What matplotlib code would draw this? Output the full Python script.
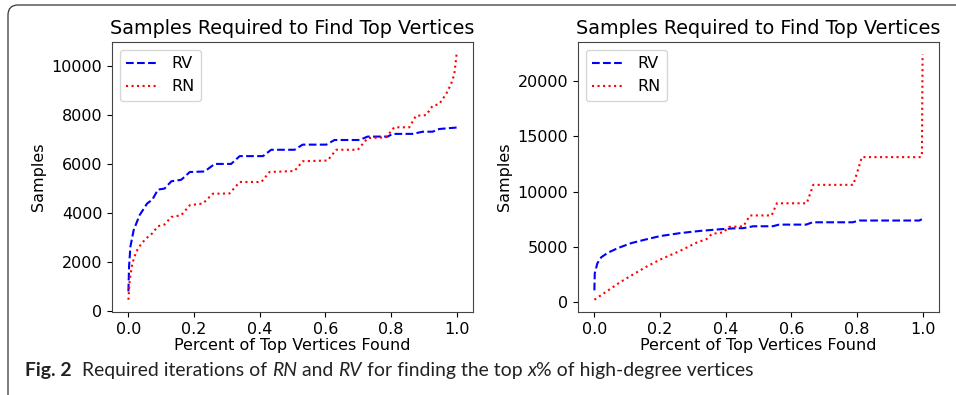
import matplotlib
matplotlib.use("Agg")
import matplotlib.pyplot as plt
from matplotlib.patches import FancyBboxPatch
from matplotlib.transforms import IdentityTransform

# ---------------- data ----------------
left_rv_x = [0.0, 0.002, 0.006, 0.016, 0.034, 0.057, 0.073, 0.09, 0.11, 0.131, 0.161,
             0.187, 0.232, 0.263, 0.313, 0.339, 0.41, 0.435, 0.506, 0.531, 0.603,
             0.628, 0.704, 0.729, 0.79, 0.805, 0.866, 0.897, 0.927, 0.947, 1.0]
left_rv_y = [790, 1800, 2620, 3300, 3910, 4390, 4550, 4960, 5000, 5300, 5360,
             5680, 5700, 6010, 6010, 6330, 6330, 6590, 6590, 6800, 6800,
             6990, 6990, 7130, 7130, 7240, 7240, 7330, 7330, 7440, 7500]

left_rn_x = [0.0, 0.004, 0.012, 0.024, 0.04, 0.06, 0.073, 0.09, 0.11, 0.131, 0.161,
             0.187, 0.227, 0.257, 0.308, 0.339, 0.405, 0.43, 0.506, 0.531, 0.607,
             0.633, 0.699, 0.729, 0.785, 0.81, 0.856, 0.876, 0.907, 0.927, 0.947,
             0.968, 0.983, 0.993, 1.0]
left_rn_y = [450, 1260, 1940, 2420, 2760, 3030, 3170, 3460, 3530, 3840, 3910,
             4320, 4390, 4790, 4800, 5270, 5270, 5680, 5720, 6120, 6150,
             6590, 6590, 7070, 7100, 7510, 7510, 7980, 8010, 8390, 8460,
             8870, 9280, 9680, 10500]

right_rv_x = [0.0, 0.001, 0.009, 0.021, 0.042, 0.072, 0.113, 0.153, 0.2, 0.261, 0.322,
              0.383, 0.424, 0.454, 0.484, 0.543, 0.563, 0.645, 0.665, 0.787, 0.807,
              0.99, 1.0]
right_rv_y = [1070, 2600, 3520, 4070, 4490, 4900, 5350, 5650, 5980, 6250, 6450,
              6600, 6680, 6700, 6870, 6870, 7020, 7020, 7230, 7230, 7390,
              7390, 7540]

right_rn_x = [0.0, 0.042, 0.078, 0.123, 0.161, 0.2, 0.261, 0.312, 0.342, 0.358, 0.393,
              0.41, 0.454, 0.474, 0.54, 0.556, 0.647, 0.667, 0.789, 0.815, 0.995,
              0.998, 1.0]
right_rn_y = [220, 1070, 1800, 2600, 3250, 3850, 4640, 5400, 5710, 6180, 6320,
              6810, 6870, 7850, 7850, 8950, 8950, 10620, 10620, 13130, 13130,
              13500, 22440]

title = "Samples Required to Find Top Vertices"
xlabel = "Percent of Top Vertices Found"
ylabel = "Samples"
labels = ["RV", "RN"]

caption_parts = [("Fig. 2", "bold", "normal"),
                 ("  Required iterations of ", "normal", "normal"),
                 ("RN", "normal", "italic"),
                 (" and ", "normal", "normal"),
                 ("RV", "normal", "italic"),
                 (" for finding the top ", "normal", "normal"),
                 ("x", "normal", "italic"),
                 ("% of high-degree vertices", "normal", "normal")]

# ---------------- figure ----------------
W, H = 956, 395
fig = plt.figure(figsize=(W / 100, H / 100), dpi=100)

FS = 11.5
axL = fig.add_axes([112 / W, (H - 312) / H, 361 / W, 270 / H])
axR = fig.add_axes([578 / W, (H - 312) / H, 361 / W, 270 / H])

for ax, rv, rn in [(axL, (left_rv_x, left_rv_y), (left_rn_x, left_rn_y)),
                   (axR, (right_rv_x, right_rv_y), (right_rn_x, right_rn_y))]:
    ax.plot(rv[0], rv[1], linestyle="--", color="blue", lw=1.5, label=labels[0])
    ax.plot(rn[0], rn[1], linestyle=":", color="red", lw=1.5, label=labels[1])
    ax.set_title(title, fontsize=13.8)
    ax.set_xlabel(xlabel, fontsize=FS, labelpad=1)
    ax.set_ylabel(ylabel, fontsize=FS)
    ax.tick_params(labelsize=FS)
    ax.set_xticks([0.0, 0.2, 0.4, 0.6, 0.8, 1.0])
    for s in ax.spines.values():
        s.set_color("#444444")
    ax.legend(loc="upper left", fontsize=FS)

axR.set_yticks([0, 5000, 10000, 15000, 20000])

# border frame
frame = FancyBboxPatch((8, -12), 1000, 402, boxstyle="round,pad=0,rounding_size=10",
                       transform=IdentityTransform(), fill=False,
                       edgecolor="#333333", lw=0.9)
fig.patches.append(frame)

# caption, built piecewise
renderer = fig.canvas.get_renderer()
cap_family = ["Lato", "DejaVu Sans"]
target_w = 750 - 25


def place(fs):
    x = 25
    txts = []
    for s, wgt, sty in caption_parts:
        t = fig.text(x / W, 19 / H, s, fontsize=fs, fontweight=wgt, fontstyle=sty,
                     family=cap_family, va="baseline", ha="left", color="#222222")
        bb = t.get_window_extent(renderer=renderer)
        x += bb.width
        txts.append(t)
    return x - 25, txts


w, txts = place(12)
for t in txts:
    t.remove()
fs = 12 * target_w / w
place(fs)

fig.savefig("out.png", dpi=100)
